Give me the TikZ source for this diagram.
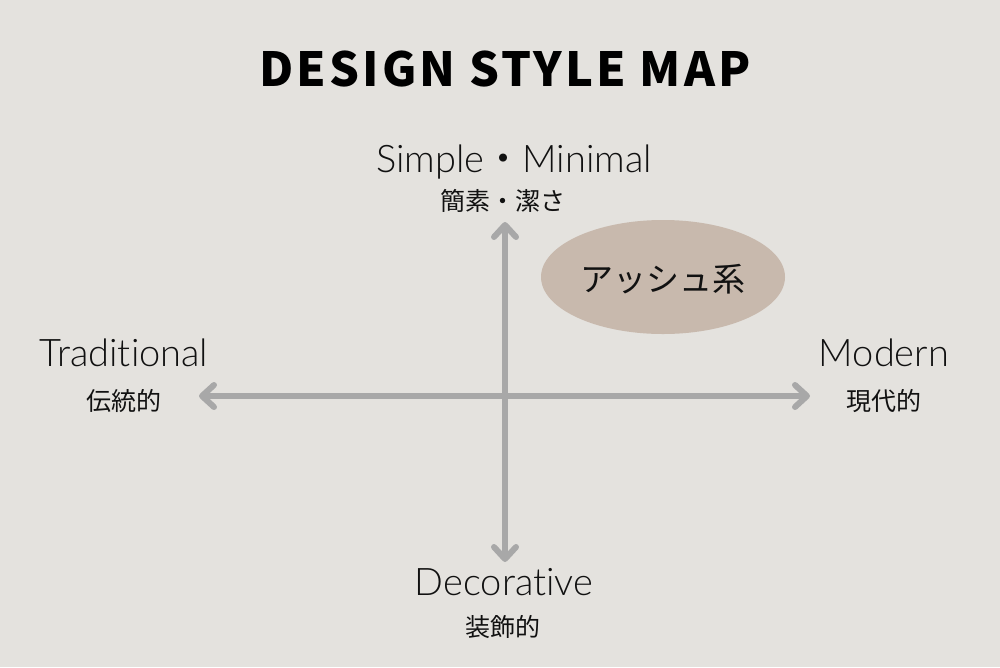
\documentclass[tikz,border=0pt]{standalone}
\usepackage{fontspec}
\setmainfont{Lato Light}[Ligatures={NoCommon}]
\newfontfamily\cjk{Noto Sans CJK JP}
\newfontfamily\titlefont{Noto Sans CJK JP}[LetterSpace=6.5]
\usetikzlibrary{arrows.meta,shapes.geometric}
\definecolor{bg}{HTML}{E4E2DE}
\definecolor{axisgray}{HTML}{A8A8A8}
\definecolor{ash}{HTML}{C8B9AD}
\definecolor{ink}{HTML}{111111}
\tikzset{
  axis/.style={draw=axisgray, line width=6pt, line cap=round,
    {Straight Barb[length=12pt,width=22pt,round]}-{Straight Barb[length=12pt,width=22pt,round]}},
  enlabel/.style={inner sep=0pt, anchor=base, text=ink, font=\fontsize{38}{42}\selectfont},
  jplabel/.style={inner sep=0pt, anchor=base, text=ink, font=\cjk\fontsize{25}{28}\selectfont},
  titlelabel/.style={inner sep=0pt, anchor=base, text=black, font=\titlefont\bfseries\fontsize{47}{50}\selectfont},
  blob/.style={ellipse, fill=ash, draw=none, minimum width=244pt, minimum height=114pt, inner sep=0pt}
}
\begin{document}
\begin{tikzpicture}[x=1pt,y=-1pt]
\fill[bg] (0,0) rectangle (1000,667);
\useasboundingbox (0,0) rectangle (1000,667);
\node[titlelabel] (title) at (505,86) {DESIGN STYLE MAP};
\node[blob] (ashnode) at (663,277) {};
\node[inner sep=0pt, anchor=base, text=ink, font=\cjk\fontsize{33}{36}\selectfont] (ashtext) at (663,291) {アッシュ系};
\coordinate (L) at (199,396);
\coordinate (R) at (810,396);
\coordinate (T) at (505,222);
\coordinate (B) at (505,562);
\draw[axis] (L) -- (R);
\draw[axis] (T) -- (B);
\node[enlabel] (simple) at (514,172) {Simple{\cjk ・}Minimal};
\node[jplabel] (simplejp) at (503,210) {簡素・潔さ};
\node[enlabel] (trad) at (124,366) {Traditional};
\node[jplabel] (tradjp) at (124,410) {伝統的};
\node[enlabel] (modern) at (884,366) {Modern};
\node[jplabel] (modernjp) at (884,410) {現代的};
\node[enlabel] (deco) at (504,595) {Decorative};
\node[jplabel] (decojp) at (503,636) {装飾的};
\end{tikzpicture}
\end{document}
